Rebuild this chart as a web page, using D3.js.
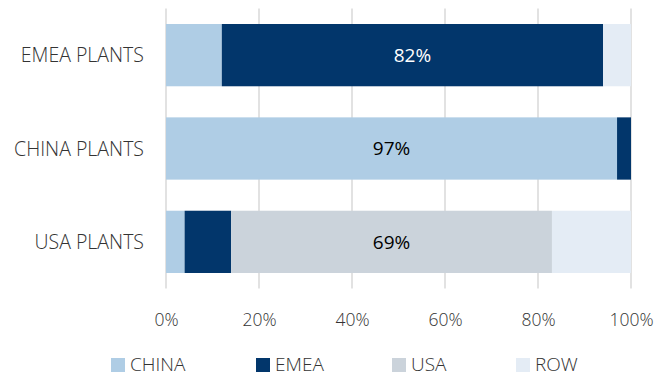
<!DOCTYPE html>
<html>
<head>
<meta charset="utf-8">
<script src="https://cdn.jsdelivr.net/npm/d3@7"></script>
<style>
  body { margin: 0; background: #fff; }
  svg text { font-family: "Open Sans", "Noto Sans", sans-serif; font-weight: 300; }
</style>
</head>
<body>
<div id="chart"></div>
<script>
const plants = ["EMEA PLANTS", "CHINA PLANTS", "USA PLANTS"];
const regions = ["CHINA", "EMEA", "USA", "ROW"];
const china = [12, 97, 4];
const emea = [82, 3, 10];
const usa = [0, 0, 69];
const row = [6, 0, 17];
const ticks = [0, 20, 40, 60, 80, 100];
const colors = ["#afcde5", "#02366b", "#cbd3db", "#e4ecf5"];
// which segment gets a label in each bar
const labelled = ["EMEA", "CHINA", "USA"];

const W = 667, H = 376;
const margin = { left: 166, right: 36, top: 8.5, bottom: 87.5 };

const data = plants.map((p, i) => ({
  plant: p, CHINA: china[i], EMEA: emea[i], USA: usa[i], ROW: row[i]
}));

const svg = d3.select("#chart").append("svg")
  .attr("width", W).attr("height", H);

const x = d3.scaleLinear().domain([0, 100]).range([margin.left, W - margin.right]);
const y = d3.scaleBand().domain(plants)
  .range([margin.top, H - margin.bottom])
  .paddingInner(0.333).paddingOuter(0.166);
const color = d3.scaleOrdinal().domain(regions).range(colors);

// gridlines
svg.append("g").selectAll("line").data(ticks).enter().append("line")
  .attr("x1", d => x(d)).attr("x2", d => x(d))
  .attr("y1", margin.top).attr("y2", H - margin.bottom)
  .attr("stroke", "#d9d9d9").attr("stroke-width", 1.5);

const stacked = d3.stack().keys(regions)(data);

svg.append("g").selectAll("g").data(stacked).enter().append("g")
  .attr("fill", d => color(d.key))
  .selectAll("rect").data(d => d).enter().append("rect")
  .attr("x", d => x(d[0]))
  .attr("width", d => x(d[1]) - x(d[0]))
  .attr("y", d => y(d.data.plant))
  .attr("height", y.bandwidth());

// value labels
plants.forEach((p, i) => {
  const s = stacked.find(k => k.key === labelled[i]);
  const d = s[i];
  svg.append("text")
    .attr("x", (x(d[0]) + x(d[1])) / 2)
    .attr("y", y(p) + y.bandwidth() / 2)
    .attr("dy", "0.36em")
    .attr("text-anchor", "middle")
    .attr("font-size", 19)
    .style("font-weight", 400)
    .attr("fill", labelled[i] === "EMEA" ? "#fff" : "#000")
    .text(d.data[labelled[i]] + "%");
});

// category labels
svg.append("g").selectAll("text").data(plants).enter().append("text")
  .attr("x", 144)
  .attr("y", d => y(d) + y.bandwidth() / 2)
  .attr("dy", "0.36em")
  .attr("text-anchor", "end")
  .attr("font-size", 19.5)
  .attr("fill", "#333")
  .text(d => d);

// x axis labels
const xAxis = d3.axisBottom(x).tickValues(ticks).tickSize(0).tickFormat(d => d + "%");
const ax = svg.append("g")
  .attr("transform", `translate(0,${H - margin.bottom + 22})`)
  .call(xAxis);
ax.select(".domain").remove();
ax.selectAll("text").attr("font-size", 17.5).attr("fill", "#333")
  .style("font-family", '"Open Sans", "Noto Sans", sans-serif').style("font-weight", 300);

// legend
const legX = [111, 256, 392, 516];
const leg = svg.append("g").selectAll("g").data(regions).enter().append("g")
  .attr("transform", (d, i) => `translate(${legX[i]},357)`);
leg.append("rect").attr("y", 1).attr("width", 14).attr("height", 14).attr("fill", d => color(d));
leg.append("text").attr("x", 19).attr("y", 14)
  .attr("font-size", 19).attr("fill", "#333").text(d => d);
</script>
</body>
</html>
